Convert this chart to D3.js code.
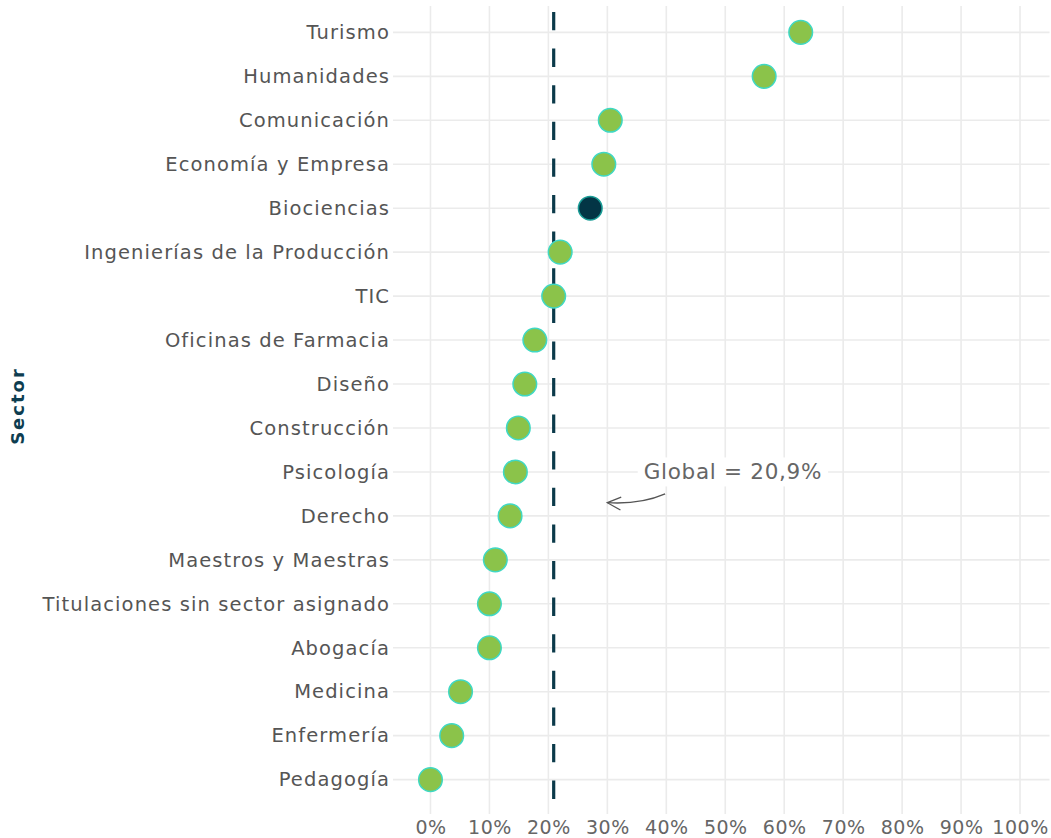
<!DOCTYPE html>
<html>
<head>
<meta charset="utf-8">
<script src="https://cdn.jsdelivr.net/npm/d3@7"></script>
<style>
  html, body { margin: 0; padding: 0; background: #ffffff; }
  svg { display: block; }
</style>
</head>
<body>
<div id="chart"></div>
<script>
// ---- data ----
const sectors = [
  "Turismo", "Humanidades", "Comunicación", "Economía y Empresa", "Biociencias",
  "Ingenierías de la Producción", "TIC", "Oficinas de Farmacia", "Diseño",
  "Construcción", "Psicología", "Derecho", "Maestros y Maestras",
  "Titulaciones sin sector asignado", "Abogacía", "Medicina", "Enfermería", "Pedagogía"
];
const values = [
  0.628, 0.566, 0.305, 0.294, 0.271,
  0.220, 0.209, 0.177, 0.160,
  0.149, 0.144, 0.135, 0.110,
  0.100, 0.100, 0.051, 0.036, 0.000
];
const highlighted = ["Biociencias"];
const globalValue = 0.209;
const globalLabel = "Global = 20,9%";
const xTicks = [0, 0.1, 0.2, 0.3, 0.4, 0.5, 0.6, 0.7, 0.8, 0.9, 1.0];
const yTitle = "Sector";
// annotation anchor points in data units (x value, sector row + fraction)
const labelPos = { x: 0.513, row: 10 };
const arrowFrom = { x: 0.398, row: 10.5 };
const arrowTo = { x: 0.30, row: 10.7 };

// ---- layout ----
const W = 1051, H = 838;
const panel = { left: 401, right: 1049.5, top: 6, bottom: 806 };

const svg = d3.select("#chart").append("svg")
  .attr("width", W).attr("height", H);

const x = d3.scaleLinear().domain([-0.05, 1.05]).range([panel.left, panel.right]);
const y = d3.scalePoint().domain(sectors).range([panel.top, panel.bottom]).padding(0.6);
const rowY = r => y(sectors[0]) + r * y.step();

const gridColor = "#ebebeb";
const fontFam = "'DejaVu Sans', sans-serif";

// gridlines
const g = svg.append("g");
g.selectAll(".vg").data(xTicks).join("line")
  .attr("x1", d => x(d)).attr("x2", d => x(d))
  .attr("y1", panel.top).attr("y2", panel.bottom + 8)
  .attr("stroke", gridColor).attr("stroke-width", 1.6);
g.selectAll(".hg").data(sectors).join("line")
  .attr("x1", panel.left - 8).attr("x2", panel.right)
  .attr("y1", d => y(d)).attr("y2", d => y(d))
  .attr("stroke", gridColor).attr("stroke-width", 1.6);

// x axis labels
const xAxis = d3.axisBottom(x).tickValues(xTicks).tickFormat(d3.format(".0%")).tickSize(0).tickPadding(15);
const xg = svg.append("g").attr("transform", `translate(0,${panel.bottom})`).call(xAxis);
xg.select(".domain").remove();
xg.selectAll("text").attr("fill", "#666666").style("font-family", fontFam)
  .style("font-size", "19px").style("letter-spacing", "0.5px");

// y axis labels
const yAxis = d3.axisLeft(y).tickSize(0).tickPadding(11);
const yg = svg.append("g").attr("transform", `translate(${panel.left},0)`).call(yAxis);
yg.select(".domain").remove();
yg.selectAll("text").attr("fill", "#555555").style("font-family", fontFam)
  .style("font-size", "19.5px").style("letter-spacing", "1.1px");

// y title
svg.append("text")
  .attr("transform", `translate(24,${(panel.top + panel.bottom) / 2}) rotate(-90)`)
  .attr("text-anchor", "middle")
  .attr("fill", "#0d3d50")
  .style("font-family", fontFam).style("font-weight", "bold")
  .style("font-size", "18px").style("letter-spacing", "2px")
  .text(yTitle);

// global dashed line
svg.append("line")
  .attr("x1", x(globalValue)).attr("x2", x(globalValue))
  .attr("y1", panel.top).attr("y2", panel.bottom)
  .attr("stroke", "#0b3a4a").attr("stroke-width", 3.2)
  .attr("stroke-dasharray", "18.3,18.3").attr("stroke-dashoffset", -6);

// annotation label with white background
const lab = svg.append("g");
const labText = lab.append("text")
  .attr("x", x(labelPos.x)).attr("y", rowY(labelPos.row))
  .attr("text-anchor", "middle").attr("dominant-baseline", "central")
  .attr("fill", "#666666")
  .style("font-family", fontFam).style("font-size", "21.5px").style("letter-spacing", "0.7px")
  .text(globalLabel);
const bb = labText.node().getBBox();
lab.insert("rect", "text")
  .attr("x", bb.x - 6).attr("y", bb.y - 2).attr("width", bb.width + 12).attr("height", bb.height + 4)
  .attr("fill", "#ffffff");

// curved arrow
const x0 = x(arrowFrom.x), y0 = rowY(arrowFrom.row);
const x1 = x(arrowTo.x), y1 = rowY(arrowTo.row);
const cx = (x0 + x1) / 2 + 4, cy = Math.max(y0, y1) + 2;
svg.append("path")
  .attr("d", `M${x0},${y0} Q${cx},${cy} ${x1},${y1}`)
  .attr("fill", "none").attr("stroke", "#555555").attr("stroke-width", 1.3);
// arrow head
const ang = Math.atan2(y1 - cy, x1 - cx);
const hl = 15, ha = Math.PI / 7;
const hp = [ang + Math.PI - ha, ang + Math.PI + ha].map(a => [x1 + hl * Math.cos(a), y1 + hl * Math.sin(a)]);
svg.append("path")
  .attr("d", `M${hp[0][0]},${hp[0][1]} L${x1},${y1} L${hp[1][0]},${hp[1][1]}`)
  .attr("fill", "none").attr("stroke", "#555555").attr("stroke-width", 1.3);

// points
svg.append("g").selectAll("circle").data(sectors).join("circle")
  .attr("cx", (d, i) => x(values[i]))
  .attr("cy", d => y(d))
  .attr("r", 11.8)
  .attr("fill", d => highlighted.includes(d) ? "#033545" : "#8bc34a")
  .attr("stroke", d => highlighted.includes(d) ? "#1a9c96" : "#3fd8c4")
  .attr("stroke-width", 1.5);
</script>
</body>
</html>
